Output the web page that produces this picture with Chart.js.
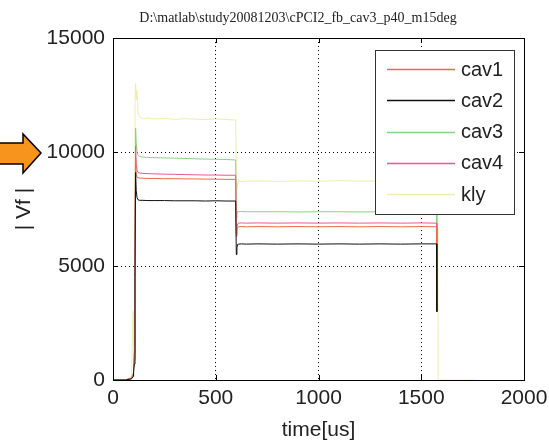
<!DOCTYPE html>
<html>
<head>
<meta charset="utf-8">
<script src="https://cdn.jsdelivr.net/npm/chart.js@4"></script>
<style>
  body { margin: 0; background: #fff; }
  canvas { display: block; }
</style>
</head>
<body>
<canvas id="vfChart" width="549" height="444"></canvas>
<script>
// time axis shared by every trace (us)
const timeUs = [0, 60, 90, 98, 100, 104, 107, 110, 113, 117, 122, 130, 145, 170, 200, 250, 300, 350, 400, 450,
  500, 550, 597, 600, 603, 607, 612, 625, 650, 700, 800, 900, 1000, 1100, 1200, 1300, 1400, 1500, 1574, 1576,
  1580, 1582, 1770];

const cav1 = [0, 0, 60, 200, 450, 900, 5500, 9700, 9000, 8900, 8870, 8860, 8850, 8840, 8840, 8830, 8830, 8820, 8820, 8810,
  8810, 8800, 8800, 6400, 6600, 6700, 6720, 6730, 6720, 6730, 6720, 6730, 6720, 6730, 6720, 6730, 6720, 6730, 6720, 3000,
  null, null, null];
const cav2 = [0, 0, 50, 150, 350, 700, 4500, 9100, 8300, 8000, 7900, 7880, 7880, 7870, 7870, 7870, 7860, 7860, 7860, 7850,
  7860, 7850, 7850, 5500, 5800, 5950, 5960, 5970, 5960, 5970, 5960, 5970, 5960, 5970, 5960, 5970, 5960, 5970, 5970, 3000,
  null, null, null];
const cav3 = [0, 0, 100, 300, 600, 1500, 7000, 11050, 10400, 10000, 9850, 9800, 9780, 9760, 9750, 9740, 9730, 9720, 9700, 9690,
  9680, 9670, 9650, 7100, 7250, 7400, 7380, 7390, 7380, 7380, 7380, 7370, 7380, 7380, 7370, 7380, 7380, 7370, 7380, 3000,
  null, null, null];
const cav4 = [0, 0, 80, 250, 570, 1180, 6000, 10260, 9500, 9200, 9100, 9080, 9060, 9050, 9040, 9030, 9020, 9010, 9000, 8990,
  8990, 8980, 8980, 6300, 6700, 6850, 6880, 6890, 6880, 6890, 6880, 6890, 6880, 6890, 6880, 6890, 6880, 6890, 6880, 3000,
  null, null, null];
const kly = [0, 0, 150, 3000, 1500, 2500, 12000, 13000, 12300, 12700, 11700, 11550, 11450, 11500, 11450, 11480, 11430, 11460, 11440, 11420,
  11450, 11430, 11400, 8700, 8400, 8600, 8750, 8700, 8720, 8730, 8710, 8730, 8720, 8740, 8720, 8730, 8720, 8710, 8720, 8720,
  8720, 0, 0];

const seriesNames = ['cav1', 'cav2', 'cav3', 'cav4', 'kly'];
const seriesValues = [cav1, cav2, cav3, cav4, kly];
const seriesColors = ['#f26a45', '#111111', '#86d486', '#f0559a', '#efefa8'];
// lower = drawn on top (black trace stays visible on the final drop)
const seriesOrder = [1, 0, 3, 2, 4];

const xTicks = [0, 500, 1000, 1500, 2000];
const yTicks = [0, 5000, 10000, 15000];
const plotTitle = 'D:\\matlab\\study20081203\\cPCI2_fb_cav3_p40_m15deg';

const datasets = seriesNames.map((name, i) => ({
  label: name,
  data: timeUs.map((t, j) => ({ x: t, y: seriesValues[i][j] })),
  borderColor: seriesColors[i],
  backgroundColor: seriesColors[i],
  borderWidth: 1,
  pointRadius: 0,
  tension: 0,
  spanGaps: false,
  order: seriesOrder[i]
}));

function edgeless(min, max) {
  return ctx => (ctx.tick && (ctx.tick.value === min || ctx.tick.value === max)) ? 'rgba(0,0,0,0)' : '#000';
}

const matlabFrame = {
  id: 'matlabFrame',
  beforeDraw(chart) {
    const ctx = chart.ctx;
    ctx.save();
    ctx.fillStyle = '#fff';
    ctx.fillRect(0, 0, chart.width, chart.height);
    ctx.restore();
  },
  afterDatasetsDraw(chart) {
    const { ctx, chartArea: a, scales } = chart;
    ctx.save();
    // box
    ctx.strokeStyle = '#000';
    ctx.lineWidth = 1;
    ctx.strokeRect(Math.round(a.left) + 0.5, Math.round(a.top) + 0.5,
      Math.round(a.right - a.left), Math.round(a.bottom - a.top));
    // inward tick marks
    ctx.beginPath();
    xTicks.forEach(v => {
      const px = Math.round(scales.x.getPixelForValue(v)) + 0.5;
      ctx.moveTo(px, a.bottom); ctx.lineTo(px, a.bottom - 5);
      ctx.moveTo(px, a.top); ctx.lineTo(px, a.top + 5);
    });
    yTicks.forEach(v => {
      const py = Math.round(scales.y.getPixelForValue(v)) + 0.5;
      ctx.moveTo(a.left, py); ctx.lineTo(a.left + 5, py);
      ctx.moveTo(a.right, py); ctx.lineTo(a.right - 5, py);
    });
    ctx.stroke();

    // legend box inside the axes
    const lx = 375, ly = 50, lw = 139, lh = 164;
    ctx.fillStyle = '#fff';
    ctx.fillRect(lx, ly, lw, lh);
    ctx.strokeStyle = '#333';
    ctx.strokeRect(lx + 0.5, ly + 0.5, lw, lh);
    ctx.font = '20px "Liberation Sans", Arial, sans-serif';
    ctx.textBaseline = 'middle';
    seriesNames.forEach((name, i) => {
      const y = 69 + i * 31.3;
      ctx.strokeStyle = seriesColors[i];
      ctx.lineWidth = 1.5;
      ctx.beginPath();
      ctx.moveTo(387, Math.round(y) + 0.5);
      ctx.lineTo(455, Math.round(y) + 0.5);
      ctx.stroke();
      ctx.fillStyle = '#222';
      ctx.fillText(name, 461, y + 1);
    });
    ctx.restore();
  },
  afterDraw(chart) {
    const ctx = chart.ctx;
    ctx.save();
    // title
    ctx.fillStyle = '#222';
    ctx.font = '14px "Liberation Serif", "Times New Roman", serif';
    ctx.textAlign = 'center';
    ctx.textBaseline = 'middle';
    ctx.fillText(plotTitle, 298, 18);
    // orange arrow pointing at the 10000 level
    ctx.beginPath();
    ctx.moveTo(-2, 143);
    ctx.lineTo(23, 143);
    ctx.lineTo(23, 134);
    ctx.lineTo(41, 153);
    ctx.lineTo(23, 173);
    ctx.lineTo(23, 164);
    ctx.lineTo(-2, 164);
    ctx.closePath();
    ctx.fillStyle = '#f7941e';
    ctx.fill();
    ctx.strokeStyle = '#000';
    ctx.lineWidth = 1.5;
    ctx.stroke();
    ctx.restore();
  }
};

const tickFont = { size: 21, family: '"Liberation Sans", Arial' };

new Chart(document.getElementById('vfChart').getContext('2d'), {
  type: 'line',
  data: { datasets },
  options: {
    responsive: false,
    animation: false,
    layout: { padding: { top: 38, right: 25, left: 0, bottom: 0 } },
    plugins: { legend: { display: false }, tooltip: { enabled: false } },
    scales: {
      x: {
        type: 'linear',
        min: 0, max: 2000,
        afterBuildTicks: s => { s.ticks = xTicks.map(v => ({ value: v })); },
        afterFit: s => { s.height = 64; s.paddingLeft = 0; s.paddingRight = 0; },
        ticks: { color: '#222', padding: 6, font: tickFont, maxRotation: 0, callback: v => String(v) },
        grid: { color: edgeless(0, 2000), drawTicks: false, lineWidth: 1 },
        border: { display: false, dash: [1, 3] },
        title: { display: true, text: 'time[us]', color: '#222', padding: { top: 0, bottom: 1 }, font: tickFont }
      },
      y: {
        min: 0, max: 15000,
        afterBuildTicks: s => { s.ticks = yTicks.map(v => ({ value: v })); },
        afterFit: s => { s.width = 113; s.paddingTop = 0; s.paddingBottom = 0; },
        ticks: { color: '#222', padding: 8, font: tickFont, callback: v => String(v) },
        grid: { color: edgeless(0, 15000), drawTicks: false, lineWidth: 1 },
        border: { display: false, dash: [1, 3] },
        title: { display: true, text: '| Vf |', color: '#222', padding: { top: 12, bottom: 0 }, font: tickFont }
      }
    }
  },
  plugins: [matlabFrame]
});
</script>
</body>
</html>
